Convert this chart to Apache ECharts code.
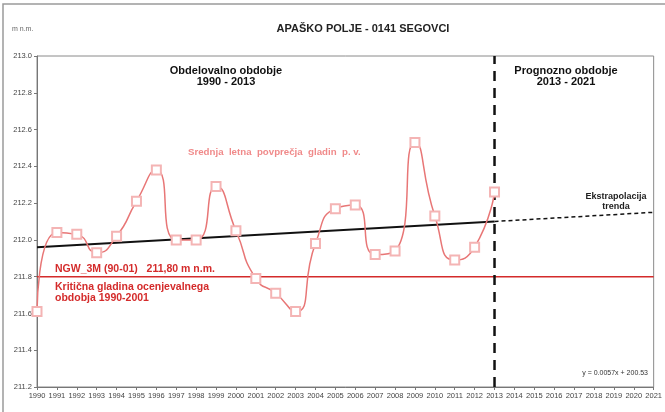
<!DOCTYPE html>
<html>
<head>
<meta charset="utf-8">
<script src="https://cdn.jsdelivr.net/npm/echarts@6/dist/echarts.min.js"></script>
<style>
html, body { margin: 0; padding: 0; background: #fff; }
#main { width: 665px; height: 412px; }
</style>
</head>
<body>
<div id="main"></div>
<script>
// letna povprecja gladin
var years = [1990, 1991, 1992, 1993, 1994, 1995, 1996, 1997, 1998, 1999, 2000, 2001,
    2002, 2003, 2004, 2005, 2006, 2007, 2008, 2009, 2010, 2011, 2012, 2013];
var levels = [211.61, 212.04, 212.03, 211.93, 212.02, 212.21, 212.38, 212.00, 212.00, 212.29, 212.05, 211.79,
    211.71, 211.61, 211.98, 212.17, 212.19, 211.92, 211.94, 212.53, 212.13, 211.89, 211.96, 212.26];

// trend in ekstrapolacija
var trendYears = [1990, 2013];
var trendVals = [211.96, 212.10];
var extraYears = [2013, 2021];
var extraVals = [212.10, 212.15];

// kriticna gladina
var ngwYears = [1990, 2021];
var ngwVals = [211.80, 211.80];

// meja obdobij
var splitYears = [2013, 2013];
var splitVals = [211.2, 213.0];

var yMin = 211.2, yMax = 213.0, yStep = 0.2;
var xMin = 1990, xMax = 2021;

function pairs(xs, ys) {
    var out = [];
    for (var i = 0; i < xs.length; i++) out.push([xs[i], ys[i]]);
    return out;
}

function draw_segovci() {
    var myChart = echarts.init(document.getElementById("main"));
    var font = 'Liberation Sans, Arial, sans-serif';
    var option = {
        backgroundColor: '#fff',
        animation: false,
        textStyle: { fontFamily: font },
        grid: {
            left: 37, right: 8, top: 56, bottom: 25,
            show: true, borderColor: '#8a8a8a', borderWidth: 1
        },
        xAxis: {
            type: 'value',
            min: xMin, max: xMax, interval: 1,
            axisLine: { lineStyle: { color: '#777' } },
            axisTick: { lineStyle: { color: '#777' }, length: 3 },
            axisLabel: { fontSize: 7.5, color: '#444', margin: 5, formatter: function (v) { return '' + v; } },
            splitLine: { show: false }
        },
        yAxis: {
            type: 'value',
            min: yMin, max: yMax, interval: yStep,
            axisLine: { show: true, lineStyle: { color: '#777' } },
            axisTick: { show: true, lineStyle: { color: '#777' }, length: 3 },
            axisLabel: { fontSize: 7.5, color: '#444', margin: 5, formatter: function (v) { return v.toFixed(1); } },
            splitLine: { show: false }
        },
        series: [
            {
                name: 'NGW_3M',
                type: 'line',
                data: pairs(ngwYears, ngwVals),
                symbol: 'none',
                lineStyle: { color: '#d42b2b', width: 1.5 },
                z: 2
            },
            {
                name: 'trend',
                type: 'line',
                data: pairs(trendYears, trendVals),
                symbol: 'none',
                lineStyle: { color: '#111', width: 2 },
                z: 3
            },
            {
                name: 'ekstrapolacija',
                type: 'line',
                data: pairs(extraYears, extraVals),
                symbol: 'none',
                lineStyle: { color: '#111', width: 1.5, type: [4, 3] },
                z: 3
            },
            {
                name: 'meja',
                type: 'line',
                data: pairs(splitYears, splitVals),
                symbol: 'none',
                lineStyle: { color: '#111', width: 2.5, type: [10, 7] },
                z: 4
            },
            {
                name: 'Srednja letna povprečja gladin p. v.',
                type: 'line',
                data: pairs(years, levels),
                smooth: 0.6,
                symbol: 'emptyRect',
                symbolSize: 9,
                itemStyle: { color: '#f4b4b4', borderColor: '#f4b4b4', borderWidth: 1 },
                lineStyle: { color: '#e87676', width: 1.5 },
                z: 5
            }
        ],
        graphic: [
            { type: 'rect', shape: { x: 3, y: 4, width: 700, height: 450 }, style: { fill: 'none', stroke: '#9a9a9a', lineWidth: 1.5 }, silent: true },
            { type: 'text', x: 12, y: 29, style: { text: 'm n.m.', font: '7px ' + font, fill: '#666', textVerticalAlign: 'middle' } },
            { type: 'text', x: 363, y: 29, style: { text: 'APAŠKO POLJE - 0141 SEGOVCI', font: 'bold 11px ' + font, fill: '#222', textAlign: 'center', textVerticalAlign: 'middle' } },
            { type: 'text', x: 226, y: 76, style: { text: 'Obdelovalno obdobje\n1990 - 2013', font: 'bold 11px ' + font, lineHeight: 11, fill: '#111', textAlign: 'center', textVerticalAlign: 'middle' } },
            { type: 'text', x: 566, y: 76, style: { text: 'Prognozno obdobje\n2013 - 2021', font: 'bold 11px ' + font, lineHeight: 11, fill: '#111', textAlign: 'center', textVerticalAlign: 'middle' } },
            { type: 'text', x: 188, y: 152, style: { text: 'Srednja  letna  povprečja  gladin  p. v.', font: 'bold 9.7px ' + font, fill: '#f08a8a', textVerticalAlign: 'middle' } },
            { type: 'text', x: 616, y: 202, style: { text: 'Ekstrapolacija\ntrenda', font: 'bold 9px ' + font, lineHeight: 10, fill: '#222', textAlign: 'center', textVerticalAlign: 'middle' } },
            { type: 'text', x: 55, y: 269, style: { text: 'NGW_3M (90-01)   211,80 m n.m.', font: 'bold 10.5px ' + font, fill: '#d42b2b', textVerticalAlign: 'middle' } },
            { type: 'text', x: 55, y: 293, style: { text: 'Kritična gladina ocenjevalnega\nobdobja 1990-2001', font: 'bold 10.5px ' + font, lineHeight: 11, fill: '#d42b2b', textVerticalAlign: 'middle' } },
            { type: 'text', x: 648, y: 373, style: { text: 'y = 0.0057x + 200.53', font: '7px ' + font, fill: '#333', textAlign: 'right', textVerticalAlign: 'middle' } }
        ]
    };
    myChart.setOption(option);
}

draw_segovci();
</script>
</body>
</html>
